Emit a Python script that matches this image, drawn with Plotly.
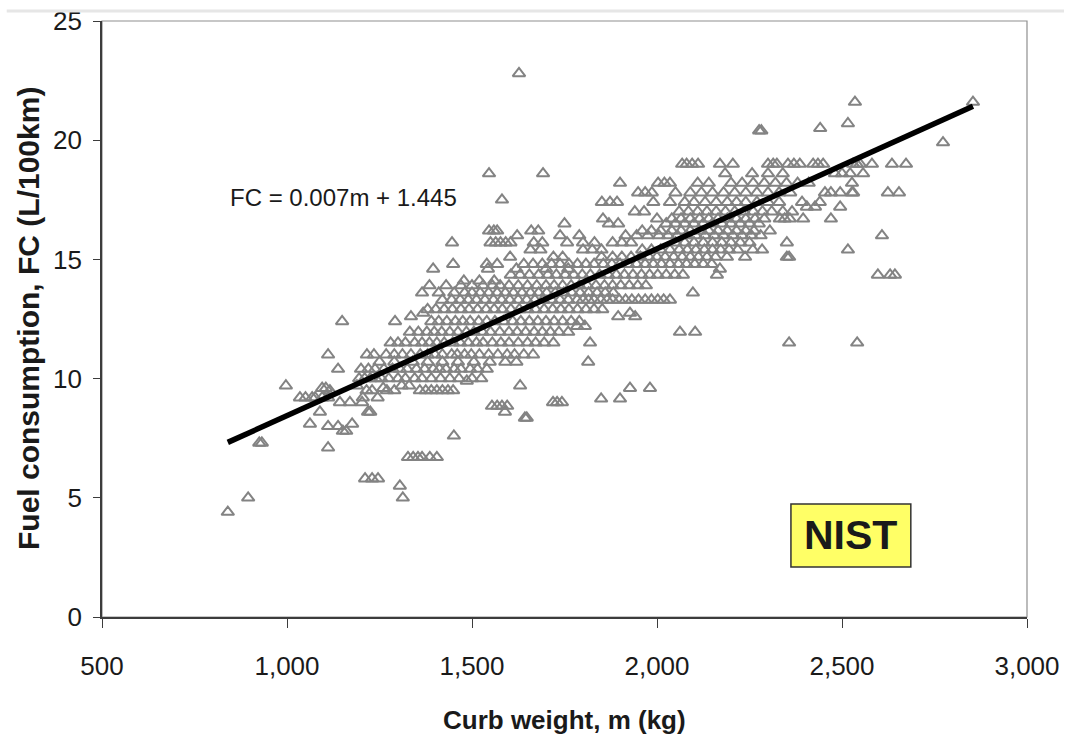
import plotly.graph_objects as go

# ---- data: (fuel consumption row, [curb weights]) ----
rows_low = [
    (4.4, [840]),
    (5.0, [895, 1313]),
    (5.5, [1305]),
    (5.8, [1211, 1230, 1246]),
    (6.7, [1327, 1341, 1354, 1365, 1386, 1405]),
    (7.1, [1111]),
    (7.3, [925, 932]),
    (7.6, [1451]),
    (7.8, [1151, 1160]),
    (8.0, [1111, 1138]),
    (8.1, [1062, 1176]),
    (8.35, [1643, 1648]),
    (8.6, [1089, 1219, 1225, 1589]),
    (8.85, [1554, 1568, 1581, 1595]),
    (9.0, [1143, 1170, 1203, 1719, 1730, 1743]),
    (9.15, [1849, 1900]),
    (9.2, [1035, 1050, 1068, 1076, 1095, 1111, 1205, 1245]),
    (9.5, [1116, 1215, 1230, 1270, 1290, 1359, 1375, 1390, 1405, 1420, 1435, 1449]),
    (9.6, [1095, 1105, 1260, 1927, 1981]),
    (9.7, [997, 1189, 1310, 1330, 1630]),
    (9.9, [1486]),
]

rows_mid = [
    (10.0, [1195, 1210, 1225, 1240, 1255, 1275, 1300, 1320, 1345, 1365, 1390, 1415, 1440, 1465, 1500, 1525]),
    (10.4, [1138, 1200, 1220, 1238, 1262, 1285, 1305, 1325, 1350, 1372, 1395, 1412, 1430, 1452, 1470, 1495, 1515, 1540]),
    (10.7, [1250, 1290, 1340, 1380, 1420, 1462, 1505, 1548, 1590, 1620, 1814]),
    (11.0, [1111, 1216, 1235, 1268, 1290, 1312, 1335, 1360, 1380, 1400, 1420, 1445, 1460, 1480, 1498, 1520,
            1545, 1570, 1595, 1615, 1640, 1665]),
    (11.5, [1280, 1300, 1320, 1345, 1365, 1385, 1405, 1425, 1448, 1468, 1490, 1512, 1530, 1555, 1578, 1600,
            1625, 1650, 1672, 1695, 1720, 1819, 2357, 2541]),
    (11.95, [1332, 1355, 1378, 1398, 1418, 1440, 1462, 1485, 1505, 1528, 1550, 1575, 1600, 1622, 1645, 1668,
             1690, 1712, 1735, 1760, 2062, 2103]),
    (12.2, [1784, 1805]),
    (12.4, [1149, 1292, 1390, 1410, 1432, 1455, 1475, 1495, 1518, 1540, 1562, 1585, 1610, 1632, 1655, 1678,
            1700, 1722, 1745, 1768, 1790]),
    (12.6, [1335, 1895, 1941]),
    (12.75, [1368, 1927]),
    (12.9, [1380, 1402, 1425, 1447, 1470, 1492, 1515, 1538, 1560, 1582, 1605, 1628, 1650, 1672, 1695, 1718,
            1740, 1762, 1785, 1808, 1830, 1852]),
    (13.3, [1420, 1445, 1468, 1490, 1512, 1535, 1558, 1580, 1602, 1625, 1648, 1670, 1692, 1715, 1738, 1760,
            1784, 1800, 1815, 1830, 1848, 1865, 1880, 1898, 1915, 1932, 1950, 1968, 1985, 2002, 2018, 2035]),
    (13.6, [1365, 1410, 1452, 1480, 1500, 1522, 1545, 1568, 1590, 1612, 1635, 1658, 1680, 1702, 1725, 1748,
            1770, 1792, 1815, 1838, 1860, 1882, 2097]),
    (13.9, [1385, 1430, 1470, 1500, 1530, 1555, 1576, 1600, 1625, 1650, 1675, 1700, 1722, 1745, 1768, 1790,
            1812, 1835, 1858, 1880, 1902, 1925, 1948, 1970]),
    (14.1, [1478, 1520, 1560]),
]

rows_high = [
    (14.35, [1605, 1630, 1655, 1680, 1705, 1728, 1752, 1775, 1798, 1820, 1845, 1868, 1890, 1912, 1935, 1958,
             1980, 2002, 2025, 2048, 2070, 2162, 2597, 2630, 2643]),
    (14.6, [1395, 1543, 1620, 1700, 1760, 2170]),
    (14.8, [1449, 1540, 1568, 1640, 1665, 1690, 1715, 1738, 1762, 1785, 1808, 1830, 1855, 1878, 1900, 1922,
            1945, 1968, 1990, 2012, 2035, 2058, 2080, 2102, 2125, 2148]),
    (15.1, [1603, 1720, 1745, 1850, 1880, 1905, 1930, 1955, 1978, 2000, 2022, 2045, 2068, 2090, 2112, 2135,
            2158, 2189, 2238, 2351, 2357]),
    (15.4, [1658, 1685, 1800, 1825, 1850, 1960, 1985, 2010, 2035, 2060, 2082, 2105, 2128, 2150, 2172, 2195,
            2218, 2259, 2284, 2516]),
    (15.7, [1446, 1550, 1564, 1577, 1591, 1604, 1667, 1690, 1757, 1800, 1831, 1880, 1905, 1930, 2050, 2075,
            2100, 2125, 2150, 2175, 2200, 2225, 2250, 2351]),
    (16.0, [1622, 1738, 1790, 1915, 1945, 1975, 2005, 2030, 2055, 2080, 2105, 2130, 2155, 2180, 2205, 2230,
            2255, 2280, 2608]),
    (16.2, [1546, 1559, 1568, 1660, 1679, 1960, 1985, 2010, 2040, 2065, 2090, 2115, 2140, 2165, 2190, 2215,
            2240, 2262, 2305]),
    (16.5, [1750, 1870, 1895, 2025, 2050, 2075, 2100, 2125, 2150, 2175, 2200, 2225, 2250, 2275]),
    (16.7, [1854, 2000, 2040, 2065, 2090, 2115, 2140, 2165, 2190, 2215, 2240, 2265, 2290, 2332, 2345, 2359,
            2395, 2470]),
    (17.0, [1940, 1965, 2060, 2085, 2110, 2135, 2160, 2185, 2210, 2235, 2260, 2285, 2310, 2340, 2365]),
    (17.2, [2405, 2427, 2495]),
    (17.4, [1851, 1873, 1892, 1990, 2035, 2075, 2100, 2130, 2160, 2190, 2215, 2240, 2270, 2300, 2330, 2392, 2440]),
    (17.5, [1581]),
    (17.8, [1949, 1968, 1986, 2050, 2090, 2120, 2150, 2180, 2210, 2240, 2270, 2300, 2330, 2360, 2454, 2470,
            2495, 2527, 2530, 2624, 2654]),
    (18.2, [1900, 2003, 2020, 2035, 2110, 2140, 2200, 2230, 2260, 2290, 2320, 2350, 2380, 2410, 2527]),
    (18.6, [1546, 1692, 2184, 2257, 2300, 2340, 2481, 2500, 2522, 2557]),
    (19.0, [2068, 2080, 2095, 2111, 2170, 2205, 2300, 2314, 2324, 2354, 2370, 2386, 2422, 2435, 2449, 2530,
            2540, 2549, 2581, 2635, 2673]),
]

outliers_high = [
    (19.9, [2773]),
    (20.4, [2276, 2282]),
    (20.5, [2441]),
    (20.7, [2516]),
    (21.6, [2535, 2854]),
    (22.8, [1627]),
]

# regression line (from the label on the chart)
fit_slope = 0.007
fit_intercept = 1.445
fit_m_range = [840, 2854]
fit_label = "FC = 0.007m + 1.445"

x_ticks = [500, 1000, 1500, 2000, 2500, 3000]
y_ticks = [0, 5, 10, 15, 20, 25]

# ---- build points ----
weights, fcs = [], []
for group in (rows_low, rows_mid, rows_high, outliers_high):
    for fc, ms in group:
        for m in ms:
            weights.append(m)
            fcs.append(fc)

fit_y = [fit_slope * m + fit_intercept for m in fit_m_range]

FONT = "Liberation Sans, Arial, sans-serif"

fig = go.Figure()
fig.add_trace(go.Scatter(
    x=weights, y=fcs, mode="markers",
    marker=dict(symbol="triangle-up-open", size=11, color="#838383",
                line=dict(width=2, color="#838383")),
    showlegend=False, hoverinfo="x+y",
))
fig.add_trace(go.Scatter(
    x=fit_m_range, y=fit_y, mode="lines",
    line=dict(color="#000000", width=5.5),
    showlegend=False,
))

# plot box (top/right thin grey border)
fig.add_shape(type="rect", xref="paper", yref="paper", x0=0, x1=1, y0=0, y1=1,
              line=dict(color="#8f8f8f", width=1.2), layer="below")
# thin grey strip at top of page
fig.add_shape(type="line", xref="paper", yref="paper", x0=-0.103, x1=1.04,
              y0=1.0168, y1=1.0168, line=dict(color="#e6e6e6", width=3))

# NIST box
fig.add_shape(type="rect", xref="x", yref="y", x0=2362, x1=2686, y0=2.1, y1=4.74,
              line=dict(color="#333333", width=1.5), fillcolor="#ffff66", layer="above")
fig.add_annotation(x=(2362 + 2686) / 2, y=(2.1 + 4.74) / 2, xref="x", yref="y",
                   text="<b>NIST</b>", showarrow=False,
                   font=dict(family=FONT, size=41, color="#1a1a1a"))

# equation label
fig.add_annotation(x=840, y=17.6, xref="x", yref="y", xanchor="left", yanchor="middle",
                   text=fit_label, showarrow=False,
                   font=dict(family=FONT, size=24, color="#1a1a1a"))

# axis titles
fig.add_annotation(x=0.5, y=-0.173, xref="paper", yref="paper", xanchor="center", yanchor="middle",
                   text="<b>Curb weight, m (kg)</b>", showarrow=False,
                   font=dict(family=FONT, size=26, color="#1a1a1a"))
fig.add_annotation(x=-0.08, y=0.5, xref="paper", yref="paper", xanchor="center", yanchor="middle",
                   text="<b>Fuel consumption, FC (L/100km)</b>", showarrow=False, textangle=-90,
                   font=dict(family=FONT, size=30, color="#1a1a1a"))

fig.update_layout(
    width=1067, height=735,
    margin=dict(l=102, r=40, t=21, b=118, autoexpand=False),
    paper_bgcolor="white", plot_bgcolor="white",
    font=dict(family=FONT, color="#1a1a1a"),
    xaxis=dict(range=[500, 3000], tickvals=x_ticks, tickformat=",d",
               showgrid=False, zeroline=False, showline=True, linecolor="#3c3c3c", linewidth=1.6,
               ticks="outside", ticklen=9, tickwidth=1.4, tickcolor="#3c3c3c",
               tickfont=dict(family=FONT, size=26, color="#1a1a1a"), ticklabelstandoff=16,
               ticklabeloverflow="allow"),
    yaxis=dict(range=[0, 25], tickvals=y_ticks,
               showgrid=False, zeroline=False, showline=True, linecolor="#3c3c3c", linewidth=1.6,
               ticks="outside", ticklen=7, tickwidth=1.4, tickcolor="#3c3c3c",
               tickfont=dict(family=FONT, size=26, color="#1a1a1a"), ticklabelstandoff=6,
               ticklabeloverflow="allow"),
)

# remove the browser's default 8px body margin so the figure fills the window
fig.write_html("out.html", config={"displayModeBar": False},
               post_script="document.body.style.margin='0';")
